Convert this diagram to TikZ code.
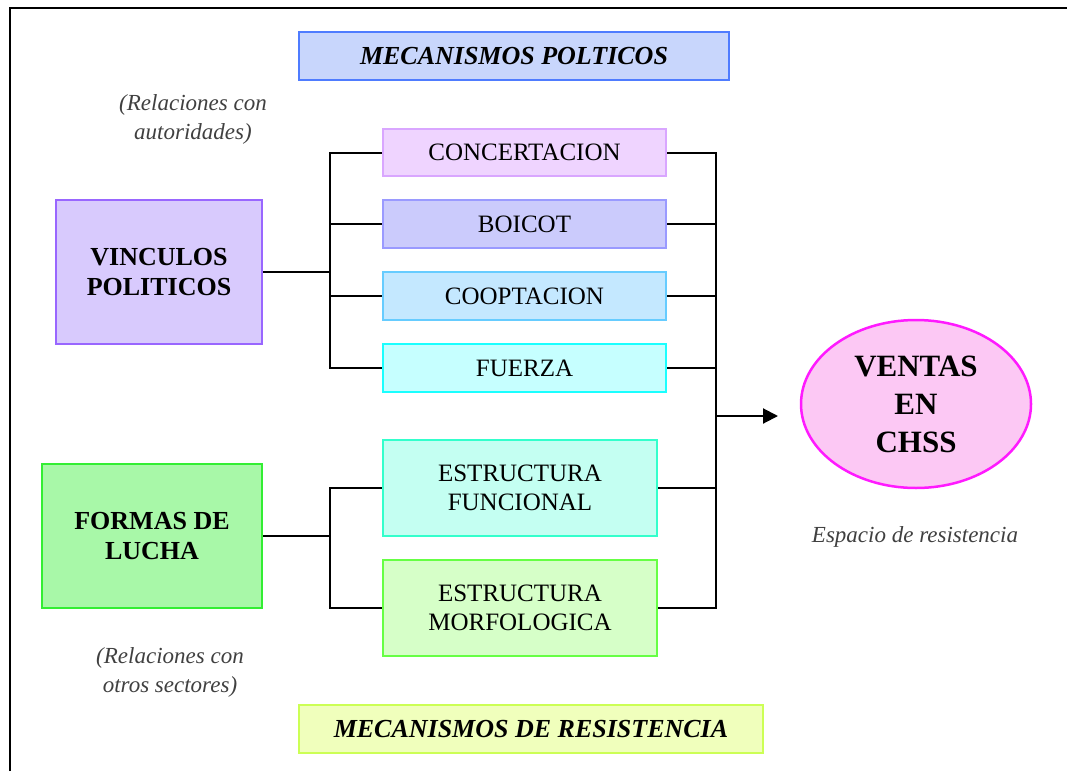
\documentclass[tikz,border=0pt]{standalone}
\usepackage{fontspec}
\setmainfont{Liberation Serif}
\usetikzlibrary{arrows.meta,shapes.geometric}
\definecolor{mpF}{HTML}{C8D6FC}\definecolor{mpD}{HTML}{4F7CFF}
\definecolor{viF}{HTML}{D8CAFD}\definecolor{viD}{HTML}{9966FF}
\definecolor{coF}{HTML}{EFD4FF}\definecolor{coD}{HTML}{D9A6FF}
\definecolor{boF}{HTML}{CBCBFC}\definecolor{boD}{HTML}{9A9AFF}
\definecolor{cpF}{HTML}{C4E8FF}\definecolor{cpD}{HTML}{66CCFF}
\definecolor{fuF}{HTML}{C6FFFF}\definecolor{fuD}{HTML}{1AFFFF}
\definecolor{veF}{HTML}{FCC8F4}\definecolor{veD}{HTML}{FF1AFF}
\definecolor{flF}{HTML}{A8F8A8}\definecolor{flD}{HTML}{33EE33}
\definecolor{efF}{HTML}{C4FFF2}\definecolor{efD}{HTML}{33FFCC}
\definecolor{emF}{HTML}{D6FFC8}\definecolor{emD}{HTML}{66FF44}
\definecolor{mrF}{HTML}{F0FFBC}\definecolor{mrD}{HTML}{CCFF55}
\definecolor{note}{HTML}{404040}
\begin{document}
\begin{tikzpicture}[x=1pt,y=-1pt,
  box/.style={draw, line width=2.5pt, rectangle, inner sep=0pt, align=center, text=black},
  small/.style={font=\fontsize{25}{29}\selectfont},
  big/.style={font=\fontsize{26}{30}\selectfont\bfseries},
  head/.style={font=\fontsize{26}{30}\selectfont\bfseries\itshape},
  notes/.style={font=\fontsize{23}{29}\selectfont\itshape, text=note, align=center},
  link/.style={line width=2pt, black}
]
\useasboundingbox (0,0) rectangle (1067,771);
\draw[line width=2pt] (10,771) -- (10,8) -- (1067,8);

% headers
\node[box, head, draw=mpD, fill=mpF, minimum width=430pt, minimum height=48pt] (mp) at (514,56) {MECANISMOS POLTICOS};
\node[box, head, draw=mrD, fill=mrF, minimum width=464pt, minimum height=48pt] (mr) at (531,729) {MECANISMOS DE RESISTENCIA};

% notes
\node[notes] (n1) at (193,119) {(Relaciones con\\autoridades)};
\node[notes] (n2) at (170,672) {(Relaciones con\\otros sectores)};
\node[notes] (n3) at (915,537) {Espacio de resistencia};

% left boxes
\node[box, big, draw=viD, fill=viF, minimum width=206pt, minimum height=144pt] (vi) at (159,272) {VINCULOS\\POLITICOS};
\node[box, big, draw=flD, fill=flF, minimum width=220pt, minimum height=144pt] (fl) at (152,536) {FORMAS DE\\LUCHA};

% middle boxes
\node[box, small, draw=coD, fill=coF, minimum width=283pt, minimum height=47pt] (co) at (524.5,152.5) {CONCERTACION};
\node[box, small, draw=boD, fill=boF, minimum width=283pt, minimum height=48pt] (bo) at (524.5,224) {BOICOT};
\node[box, small, draw=cpD, fill=cpF, minimum width=283pt, minimum height=48pt] (cp) at (524.5,296) {COOPTACION};
\node[box, small, draw=fuD, fill=fuF, minimum width=283pt, minimum height=48pt] (fu) at (524.5,368) {FUERZA};
\node[box, small, draw=efD, fill=efF, minimum width=274pt, minimum height=96pt] (ef) at (520,488) {ESTRUCTURA\\FUNCIONAL};
\node[box, small, draw=emD, fill=emF, minimum width=274pt, minimum height=96pt] (em) at (520,608) {ESTRUCTURA\\MORFOLOGICA};

% ellipse
\node[ellipse, draw=veD, fill=veF, line width=2.5pt, minimum width=230pt, minimum height=168pt, inner sep=0pt, align=center, font=\fontsize{31}{38}\selectfont\bfseries] (ve) at (916,404) {VENTAS\\EN\\CHSS};

% connectors left
\coordinate (bus1) at (330,272);
\coordinate (bus2) at (330,536);
\draw[link] (vi.east) -- (bus1);
\draw[link] (co.west) -| (bus1) |- (fu.west);
\draw[link] (bo.west) -- (bo.west -| bus1);
\draw[link] (cp.west) -- (cp.west -| bus1);
\draw[link] (fl.east) -- (bus2);
\draw[link] (ef.west) -| (bus2) |- (em.west);

% connectors right
\coordinate (rbus) at (716,416);
\draw[link] (co.east) -| (rbus) |- (em.east);
\draw[link] (bo.east) -- (bo.east -| rbus);
\draw[link] (cp.east) -- (cp.east -| rbus);
\draw[link] (fu.east) -- (fu.east -| rbus);
\draw[link] (ef.east) -- (ef.east -| rbus);
\coordinate (tip) at (778,416);
\draw[link, -{Triangle[length=15pt,width=15pt]}] (rbus) -- (tip);
\end{tikzpicture}
\end{document}
